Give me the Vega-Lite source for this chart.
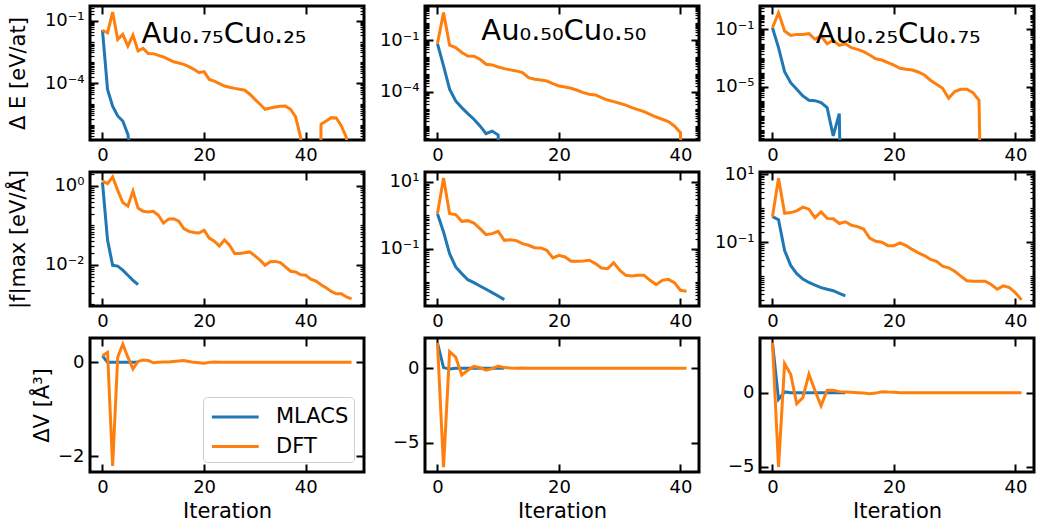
{
"$schema": "https://vega.github.io/schema/vega-lite/v6.json",
"padding": {"left": 5, "top": 3, "right": 0, "bottom": 0},
"background": "white",
"columns": 3,
"spacing": {"row": 32, "column": 61},
"bounds": "flush",
"resolve": {"scale": {"x": "independent", "y": "independent", "color": "independent"}, "legend": {"color": "independent"}, "axis": {"x": "independent", "y": "independent"}},
"datasets": {
"e1": [{"s":"MLACS","i":0,"v":0.0347},{"s":"MLACS","i":1,"v":5.13e-5},{"s":"MLACS","i":2,"v":8.13e-6},{"s":"MLACS","i":3,"v":2.75e-6},{"s":"MLACS","i":4,"v":1.58e-6},{"s":"MLACS","i":5,"v":3.6e-7},{"s":"MLACS","i":6,"v":1e-8},
{"s":"DFT","i":0,"v":0.0347},{"s":"DFT","i":1,"v":0.0263},{"s":"DFT","i":2,"v":0.257},{"s":"DFT","i":3,"v":0.0126},{"s":"DFT","i":4,"v":0.0219},{"s":"DFT","i":5,"v":0.00603},{"s":"DFT","i":6,"v":0.0204},{"s":"DFT","i":7,"v":0.00355},{"s":"DFT","i":8,"v":0.00468},{"s":"DFT","i":9,"v":0.00269},{"s":"DFT","i":10,"v":0.00263},{"s":"DFT","i":11,"v":0.00219},{"s":"DFT","i":12,"v":0.00182},{"s":"DFT","i":13,"v":0.00141},{"s":"DFT","i":14,"v":0.00107},{"s":"DFT","i":15,"v":0.000933},{"s":"DFT","i":16,"v":0.000813},{"s":"DFT","i":17,"v":0.000631},{"s":"DFT","i":18,"v":0.000468},{"s":"DFT","i":19,"v":0.000324},{"s":"DFT","i":20,"v":0.000363},{"s":"DFT","i":21,"v":0.000155},{"s":"DFT","i":22,"v":0.000129},{"s":"DFT","i":23,"v":9.77e-5},{"s":"DFT","i":24,"v":7.41e-5},{"s":"DFT","i":25,"v":6.46e-5},{"s":"DFT","i":26,"v":5.75e-5},{"s":"DFT","i":27,"v":5.25e-5},{"s":"DFT","i":28,"v":4.68e-5},{"s":"DFT","i":29,"v":3.02e-5},{"s":"DFT","i":30,"v":1.7e-5},{"s":"DFT","i":31,"v":1e-5},{"s":"DFT","i":32,"v":5.75e-6},{"s":"DFT","i":33,"v":6.61e-6},{"s":"DFT","i":34,"v":7.41e-6},{"s":"DFT","i":35,"v":7.94e-6},{"s":"DFT","i":36,"v":8.13e-6},{"s":"DFT","i":37,"v":5.75e-6},{"s":"DFT","i":38,"v":2.51e-6},{"s":"DFT","i":39,"v":2.51e-7},{"s":"DFT","i":40,"v":1e-30},{"s":"DFT","i":41,"v":1e-30},{"s":"DFT","i":42,"v":1e-30},{"s":"DFT","i":43,"v":1.1e-6},{"s":"DFT","i":44,"v":1.58e-6},{"s":"DFT","i":45,"v":2.29e-6},{"s":"DFT","i":46,"v":2.19e-6},{"s":"DFT","i":47,"v":9.12e-7},{"s":"DFT","i":48,"v":2.51e-7},{"s":"DFT","i":49,"v":1e-30}],
"e2": [{"s":"MLACS","i":0,"v":0.0631},{"s":"MLACS","i":1,"v":0.00316},{"s":"MLACS","i":2,"v":0.000138},{"s":"MLACS","i":3,"v":2.88e-5},{"s":"MLACS","i":4,"v":1.17e-5},{"s":"MLACS","i":5,"v":5.25e-6},{"s":"MLACS","i":6,"v":2.45e-6},{"s":"MLACS","i":7,"v":1e-6},{"s":"MLACS","i":8,"v":3.55e-7},{"s":"MLACS","i":9,"v":5.01e-7},{"s":"MLACS","i":10,"v":2.95e-7},{"s":"MLACS","i":11,"v":1e-30},
{"s":"DFT","i":0,"v":0.0631},{"s":"DFT","i":1,"v":4.07},{"s":"DFT","i":2,"v":0.0513},{"s":"DFT","i":3,"v":0.0372},{"s":"DFT","i":4,"v":0.0191},{"s":"DFT","i":5,"v":0.012},{"s":"DFT","i":6,"v":0.0117},{"s":"DFT","i":7,"v":0.00776},{"s":"DFT","i":8,"v":0.00398},{"s":"DFT","i":9,"v":0.00363},{"s":"DFT","i":10,"v":0.00275},{"s":"DFT","i":11,"v":0.00219},{"s":"DFT","i":12,"v":0.00186},{"s":"DFT","i":13,"v":0.00162},{"s":"DFT","i":14,"v":0.00129},{"s":"DFT","i":15,"v":0.000661},{"s":"DFT","i":16,"v":0.000525},{"s":"DFT","i":17,"v":0.000479},{"s":"DFT","i":18,"v":0.000417},{"s":"DFT","i":19,"v":0.000295},{"s":"DFT","i":20,"v":0.000214},{"s":"DFT","i":21,"v":0.000186},{"s":"DFT","i":22,"v":0.000158},{"s":"DFT","i":23,"v":0.00012},{"s":"DFT","i":24,"v":8.71e-5},{"s":"DFT","i":25,"v":7.08e-5},{"s":"DFT","i":26,"v":6.46e-5},{"s":"DFT","i":27,"v":4.47e-5},{"s":"DFT","i":28,"v":3.24e-5},{"s":"DFT","i":29,"v":2.63e-5},{"s":"DFT","i":30,"v":2.09e-5},{"s":"DFT","i":31,"v":1.62e-5},{"s":"DFT","i":32,"v":1.17e-5},{"s":"DFT","i":33,"v":8.91e-6},{"s":"DFT","i":34,"v":6.76e-6},{"s":"DFT","i":35,"v":4.79e-6},{"s":"DFT","i":36,"v":3.31e-6},{"s":"DFT","i":37,"v":2.45e-6},{"s":"DFT","i":38,"v":1.78e-6},{"s":"DFT","i":39,"v":1e-6},{"s":"DFT","i":40,"v":4.07e-7},{"s":"DFT","i":41,"v":1e-30}],
"e3": [{"s":"MLACS","i":0,"v":0.129},{"s":"MLACS","i":1,"v":0.00537},{"s":"MLACS","i":2,"v":0.000115},{"s":"MLACS","i":3,"v":2e-5},{"s":"MLACS","i":4,"v":6.92e-6},{"s":"MLACS","i":5,"v":2.4e-6},{"s":"MLACS","i":6,"v":1.2e-6},{"s":"MLACS","i":7,"v":1.12e-6},{"s":"MLACS","i":8,"v":8.13e-7},{"s":"MLACS","i":9,"v":3.72e-7},{"s":"MLACS","i":10,"v":4.07e-9},{"s":"MLACS","i":11,"v":1.41e-7},{"s":"MLACS","i":12,"v":1e-30},
{"s":"DFT","i":0,"v":0.129},{"s":"DFT","i":1,"v":1.41},{"s":"DFT","i":2,"v":0.0759},{"s":"DFT","i":3,"v":0.038},{"s":"DFT","i":4,"v":0.0447},{"s":"DFT","i":5,"v":0.0447},{"s":"DFT","i":6,"v":0.0501},{"s":"DFT","i":7,"v":0.0204},{"s":"DFT","i":8,"v":0.0347},{"s":"DFT","i":9,"v":0.01},{"s":"DFT","i":10,"v":0.0174},{"s":"DFT","i":11,"v":0.00776},{"s":"DFT","i":12,"v":0.01},{"s":"DFT","i":13,"v":0.00537},{"s":"DFT","i":14,"v":0.00407},{"s":"DFT","i":15,"v":0.00282},{"s":"DFT","i":16,"v":0.00166},{"s":"DFT","i":17,"v":0.000912},{"s":"DFT","i":18,"v":0.000741},{"s":"DFT","i":19,"v":0.00049},{"s":"DFT","i":20,"v":0.000324},{"s":"DFT","i":21,"v":0.0002},{"s":"DFT","i":22,"v":0.00017},{"s":"DFT","i":23,"v":0.000151},{"s":"DFT","i":24,"v":0.00011},{"s":"DFT","i":25,"v":6.76e-5},{"s":"DFT","i":26,"v":2.95e-5},{"s":"DFT","i":27,"v":1.55e-5},{"s":"DFT","i":28,"v":8.13e-6},{"s":"DFT","i":29,"v":1.66e-6},{"s":"DFT","i":30,"v":4.79e-6},{"s":"DFT","i":31,"v":6.92e-6},{"s":"DFT","i":32,"v":6.92e-6},{"s":"DFT","i":33,"v":4.07e-6},{"s":"DFT","i":34,"v":1.2e-6},{"s":"DFT","i":35,"v":1e-30}],
"f1": [{"s":"MLACS","i":0,"v":1.26},{"s":"MLACS","i":1,"v":0.0427},{"s":"MLACS","i":2,"v":0.00977},{"s":"MLACS","i":3,"v":0.00933},{"s":"MLACS","i":4,"v":0.00741},{"s":"MLACS","i":5,"v":0.0055},{"s":"MLACS","i":6,"v":0.00407},{"s":"MLACS","i":7,"v":0.00316},
{"s":"DFT","i":0,"v":1.32},{"s":"DFT","i":1,"v":1.15},{"s":"DFT","i":2,"v":1.7},{"s":"DFT","i":3,"v":0.776},{"s":"DFT","i":4,"v":0.38},{"s":"DFT","i":5,"v":0.309},{"s":"DFT","i":6,"v":0.741},{"s":"DFT","i":7,"v":0.275},{"s":"DFT","i":8,"v":0.229},{"s":"DFT","i":9,"v":0.219},{"s":"DFT","i":10,"v":0.229},{"s":"DFT","i":11,"v":0.182},{"s":"DFT","i":12,"v":0.115},{"s":"DFT","i":13,"v":0.145},{"s":"DFT","i":14,"v":0.148},{"s":"DFT","i":15,"v":0.129},{"s":"DFT","i":16,"v":0.0832},{"s":"DFT","i":17,"v":0.0708},{"s":"DFT","i":18,"v":0.0661},{"s":"DFT","i":19,"v":0.0646},{"s":"DFT","i":20,"v":0.0759},{"s":"DFT","i":21,"v":0.0479},{"s":"DFT","i":22,"v":0.0398},{"s":"DFT","i":23,"v":0.0302},{"s":"DFT","i":24,"v":0.0427},{"s":"DFT","i":25,"v":0.0316},{"s":"DFT","i":26,"v":0.0195},{"s":"DFT","i":27,"v":0.0195},{"s":"DFT","i":28,"v":0.0204},{"s":"DFT","i":29,"v":0.0214},{"s":"DFT","i":30,"v":0.017},{"s":"DFT","i":31,"v":0.0132},{"s":"DFT","i":32,"v":0.00977},{"s":"DFT","i":33,"v":0.012},{"s":"DFT","i":34,"v":0.0123},{"s":"DFT","i":35,"v":0.0115},{"s":"DFT","i":36,"v":0.00891},{"s":"DFT","i":37,"v":0.00692},{"s":"DFT","i":38,"v":0.00661},{"s":"DFT","i":39,"v":0.00562},{"s":"DFT","i":40,"v":0.0055},{"s":"DFT","i":41,"v":0.00437},{"s":"DFT","i":42,"v":0.00389},{"s":"DFT","i":43,"v":0.00316},{"s":"DFT","i":44,"v":0.00263},{"s":"DFT","i":45,"v":0.00214},{"s":"DFT","i":46,"v":0.00186},{"s":"DFT","i":47,"v":0.00186},{"s":"DFT","i":48,"v":0.00155},{"s":"DFT","i":49,"v":0.00138}],
"f2": [{"s":"MLACS","i":0,"v":1.12},{"s":"MLACS","i":1,"v":0.316},{"s":"MLACS","i":2,"v":0.0708},{"s":"MLACS","i":3,"v":0.0282},{"s":"MLACS","i":4,"v":0.0178},{"s":"MLACS","i":5,"v":0.0117},{"s":"MLACS","i":6,"v":0.00955},{"s":"MLACS","i":7,"v":0.00759},{"s":"MLACS","i":8,"v":0.00603},{"s":"MLACS","i":9,"v":0.00479},{"s":"MLACS","i":10,"v":0.0038},{"s":"MLACS","i":11,"v":0.00295},
{"s":"DFT","i":0,"v":1.12},{"s":"DFT","i":1,"v":13.2},{"s":"DFT","i":2,"v":1.12},{"s":"DFT","i":3,"v":1.05},{"s":"DFT","i":4,"v":0.661},{"s":"DFT","i":5,"v":0.692},{"s":"DFT","i":6,"v":0.589},{"s":"DFT","i":7,"v":0.398},{"s":"DFT","i":8,"v":0.263},{"s":"DFT","i":9,"v":0.282},{"s":"DFT","i":10,"v":0.331},{"s":"DFT","i":11,"v":0.178},{"s":"DFT","i":12,"v":0.186},{"s":"DFT","i":13,"v":0.174},{"s":"DFT","i":14,"v":0.141},{"s":"DFT","i":15,"v":0.126},{"s":"DFT","i":16,"v":0.107},{"s":"DFT","i":17,"v":0.105},{"s":"DFT","i":18,"v":0.0891},{"s":"DFT","i":19,"v":0.0525},{"s":"DFT","i":20,"v":0.0631},{"s":"DFT","i":21,"v":0.0562},{"s":"DFT","i":22,"v":0.0417},{"s":"DFT","i":23,"v":0.0417},{"s":"DFT","i":24,"v":0.0427},{"s":"DFT","i":25,"v":0.0447},{"s":"DFT","i":26,"v":0.0355},{"s":"DFT","i":27,"v":0.0263},{"s":"DFT","i":28,"v":0.0251},{"s":"DFT","i":29,"v":0.038},{"s":"DFT","i":30,"v":0.0224},{"s":"DFT","i":31,"v":0.0158},{"s":"DFT","i":32,"v":0.0151},{"s":"DFT","i":33,"v":0.0158},{"s":"DFT","i":34,"v":0.0158},{"s":"DFT","i":35,"v":0.0112},{"s":"DFT","i":36,"v":0.00832},{"s":"DFT","i":37,"v":0.0112},{"s":"DFT","i":38,"v":0.012},{"s":"DFT","i":39,"v":0.00955},{"s":"DFT","i":40,"v":0.00562},{"s":"DFT","i":41,"v":0.00525}],
"f3": [{"s":"MLACS","i":0,"v":0.562},{"s":"MLACS","i":1,"v":0.457},{"s":"MLACS","i":2,"v":0.0575},{"s":"MLACS","i":3,"v":0.0209},{"s":"MLACS","i":4,"v":0.012},{"s":"MLACS","i":5,"v":0.00832},{"s":"MLACS","i":6,"v":0.00661},{"s":"MLACS","i":7,"v":0.0055},{"s":"MLACS","i":8,"v":0.00468},{"s":"MLACS","i":9,"v":0.00417},{"s":"MLACS","i":10,"v":0.0038},{"s":"MLACS","i":11,"v":0.00316},{"s":"MLACS","i":12,"v":0.00269},
{"s":"DFT","i":0,"v":0.562},{"s":"DFT","i":1,"v":7.59},{"s":"DFT","i":2,"v":0.708},{"s":"DFT","i":3,"v":0.741},{"s":"DFT","i":4,"v":0.832},{"s":"DFT","i":5,"v":1.07},{"s":"DFT","i":6,"v":0.933},{"s":"DFT","i":7,"v":0.525},{"s":"DFT","i":8,"v":0.776},{"s":"DFT","i":9,"v":0.501},{"s":"DFT","i":10,"v":0.49},{"s":"DFT","i":11,"v":0.355},{"s":"DFT","i":12,"v":0.398},{"s":"DFT","i":13,"v":0.316},{"s":"DFT","i":14,"v":0.288},{"s":"DFT","i":15,"v":0.245},{"s":"DFT","i":16,"v":0.132},{"s":"DFT","i":17,"v":0.107},{"s":"DFT","i":18,"v":0.1},{"s":"DFT","i":19,"v":0.0794},{"s":"DFT","i":20,"v":0.0794},{"s":"DFT","i":21,"v":0.0955},{"s":"DFT","i":22,"v":0.0794},{"s":"DFT","i":23,"v":0.0617},{"s":"DFT","i":24,"v":0.049},{"s":"DFT","i":25,"v":0.0407},{"s":"DFT","i":26,"v":0.0316},{"s":"DFT","i":27,"v":0.0275},{"s":"DFT","i":28,"v":0.02},{"s":"DFT","i":29,"v":0.0178},{"s":"DFT","i":30,"v":0.0141},{"s":"DFT","i":31,"v":0.0102},{"s":"DFT","i":32,"v":0.00741},{"s":"DFT","i":33,"v":0.00724},{"s":"DFT","i":34,"v":0.00724},{"s":"DFT","i":35,"v":0.00724},{"s":"DFT","i":36,"v":0.00575},{"s":"DFT","i":37,"v":0.00417},{"s":"DFT","i":38,"v":0.00525},{"s":"DFT","i":39,"v":0.00468},{"s":"DFT","i":40,"v":0.00331},{"s":"DFT","i":41,"v":0.00204}],
"v1": [{"s":"MLACS","i":0,"v":0.14},{"s":"MLACS","i":1,"v":0},{"s":"MLACS","i":2,"v":0},{"s":"MLACS","i":3,"v":0},{"s":"MLACS","i":4,"v":0},{"s":"MLACS","i":5,"v":0},{"s":"MLACS","i":6,"v":0},{"s":"MLACS","i":7,"v":0},
{"s":"DFT","i":0,"v":0.14},{"s":"DFT","i":1,"v":0.21},{"s":"DFT","i":2,"v":-2.21},{"s":"DFT","i":3,"v":0.11},{"s":"DFT","i":4,"v":0.39},{"s":"DFT","i":5,"v":0.11},{"s":"DFT","i":6,"v":-0.14},{"s":"DFT","i":7,"v":0.02},{"s":"DFT","i":8,"v":0.05},{"s":"DFT","i":9,"v":0.04},{"s":"DFT","i":10,"v":-0.01},{"s":"DFT","i":11,"v":0},{"s":"DFT","i":12,"v":0.01},{"s":"DFT","i":13,"v":0.01},{"s":"DFT","i":14,"v":0.02},{"s":"DFT","i":15,"v":0.03},{"s":"DFT","i":16,"v":0.04},{"s":"DFT","i":17,"v":0.02},{"s":"DFT","i":18,"v":0},{"s":"DFT","i":19,"v":-0.01},{"s":"DFT","i":20,"v":-0.02},{"s":"DFT","i":21,"v":0},{"s":"DFT","i":22,"v":0.01},{"s":"DFT","i":23,"v":0},{"s":"DFT","i":24,"v":0},{"s":"DFT","i":25,"v":0},{"s":"DFT","i":26,"v":0},{"s":"DFT","i":27,"v":0},{"s":"DFT","i":28,"v":0},{"s":"DFT","i":29,"v":0},{"s":"DFT","i":30,"v":0},{"s":"DFT","i":31,"v":0},{"s":"DFT","i":32,"v":0},{"s":"DFT","i":33,"v":0},{"s":"DFT","i":34,"v":0},{"s":"DFT","i":35,"v":0},{"s":"DFT","i":36,"v":0},{"s":"DFT","i":37,"v":0},{"s":"DFT","i":38,"v":0},{"s":"DFT","i":39,"v":0},{"s":"DFT","i":40,"v":0},{"s":"DFT","i":41,"v":0},{"s":"DFT","i":42,"v":0},{"s":"DFT","i":43,"v":0},{"s":"DFT","i":44,"v":0},{"s":"DFT","i":45,"v":0},{"s":"DFT","i":46,"v":0},{"s":"DFT","i":47,"v":0},{"s":"DFT","i":48,"v":0},{"s":"DFT","i":49,"v":0}],
"v2": [{"s":"MLACS","i":0,"v":1.72},{"s":"MLACS","i":1,"v":0.05},{"s":"MLACS","i":2,"v":-0.05},{"s":"MLACS","i":3,"v":0},{"s":"MLACS","i":4,"v":0},{"s":"MLACS","i":5,"v":0},{"s":"MLACS","i":6,"v":0},{"s":"MLACS","i":7,"v":0},{"s":"MLACS","i":8,"v":0},{"s":"MLACS","i":9,"v":0},{"s":"MLACS","i":10,"v":0},{"s":"MLACS","i":11,"v":0},
{"s":"DFT","i":0,"v":1.72},{"s":"DFT","i":1,"v":-6.64},{"s":"DFT","i":2,"v":1.12},{"s":"DFT","i":3,"v":0.76},{"s":"DFT","i":4,"v":-0.45},{"s":"DFT","i":5,"v":-0.13},{"s":"DFT","i":6,"v":0.13},{"s":"DFT","i":7,"v":0.05},{"s":"DFT","i":8,"v":-0.13},{"s":"DFT","i":9,"v":-0.02},{"s":"DFT","i":10,"v":0.15},{"s":"DFT","i":11,"v":0.05},{"s":"DFT","i":12,"v":0.02},{"s":"DFT","i":13,"v":0},{"s":"DFT","i":14,"v":0.03},{"s":"DFT","i":15,"v":0},{"s":"DFT","i":16,"v":0},{"s":"DFT","i":17,"v":0},{"s":"DFT","i":18,"v":0},{"s":"DFT","i":19,"v":0},{"s":"DFT","i":20,"v":0},{"s":"DFT","i":21,"v":0},{"s":"DFT","i":22,"v":0},{"s":"DFT","i":23,"v":0},{"s":"DFT","i":24,"v":0},{"s":"DFT","i":25,"v":0},{"s":"DFT","i":26,"v":0},{"s":"DFT","i":27,"v":0},{"s":"DFT","i":28,"v":0},{"s":"DFT","i":29,"v":0},{"s":"DFT","i":30,"v":0},{"s":"DFT","i":31,"v":0},{"s":"DFT","i":32,"v":0},{"s":"DFT","i":33,"v":0},{"s":"DFT","i":34,"v":0},{"s":"DFT","i":35,"v":0},{"s":"DFT","i":36,"v":0},{"s":"DFT","i":37,"v":0},{"s":"DFT","i":38,"v":0},{"s":"DFT","i":39,"v":0},{"s":"DFT","i":40,"v":0},{"s":"DFT","i":41,"v":0}],
"v3": [{"s":"MLACS","i":0,"v":3.36},{"s":"MLACS","i":1,"v":-0.45},{"s":"MLACS","i":2,"v":0.05},{"s":"MLACS","i":3,"v":0},{"s":"MLACS","i":4,"v":0},{"s":"MLACS","i":5,"v":0},{"s":"MLACS","i":6,"v":0},{"s":"MLACS","i":7,"v":0},{"s":"MLACS","i":8,"v":0},{"s":"MLACS","i":9,"v":0},{"s":"MLACS","i":10,"v":0},{"s":"MLACS","i":11,"v":0},{"s":"MLACS","i":12,"v":0},
{"s":"DFT","i":0,"v":3.36},{"s":"DFT","i":1,"v":-5.0},{"s":"DFT","i":2,"v":1.95},{"s":"DFT","i":3,"v":1.24},{"s":"DFT","i":4,"v":-0.74},{"s":"DFT","i":5,"v":-0.34},{"s":"DFT","i":6,"v":1.24},{"s":"DFT","i":7,"v":0.14},{"s":"DFT","i":8,"v":-0.89},{"s":"DFT","i":9,"v":0.16},{"s":"DFT","i":10,"v":0.16},{"s":"DFT","i":11,"v":0.07},{"s":"DFT","i":12,"v":0.05},{"s":"DFT","i":13,"v":0.03},{"s":"DFT","i":14,"v":0},{"s":"DFT","i":15,"v":-0.03},{"s":"DFT","i":16,"v":-0.07},{"s":"DFT","i":17,"v":-0.03},{"s":"DFT","i":18,"v":0.06},{"s":"DFT","i":19,"v":0.04},{"s":"DFT","i":20,"v":0.03},{"s":"DFT","i":21,"v":0},{"s":"DFT","i":22,"v":0},{"s":"DFT","i":23,"v":0},{"s":"DFT","i":24,"v":0},{"s":"DFT","i":25,"v":0},{"s":"DFT","i":26,"v":0},{"s":"DFT","i":27,"v":0},{"s":"DFT","i":28,"v":0},{"s":"DFT","i":29,"v":0},{"s":"DFT","i":30,"v":0},{"s":"DFT","i":31,"v":0},{"s":"DFT","i":32,"v":0},{"s":"DFT","i":33,"v":0},{"s":"DFT","i":34,"v":0},{"s":"DFT","i":35,"v":0},{"s":"DFT","i":36,"v":0},{"s":"DFT","i":37,"v":0},{"s":"DFT","i":38,"v":0},{"s":"DFT","i":39,"v":0},{"s":"DFT","i":40,"v":0},{"s":"DFT","i":41,"v":0}]
},
"concat": [
{"width":274,"height":134,"data":{"name":"e1"},
 "layer":[
  {"mark":{"type":"line","clip":true},"encoding":{
   "x":{"field":"i","type":"quantitative","scale":{"domain":[-2.45,51.45],"nice":false,"zero":false},"axis":{"values":[0,20,40],"title":null}},
   "y":{"field":"v","type":"quantitative","scale":{"type":"log","domain":[1.95e-7,0.501],"nice":false},"axis":{"title":"Δ E [eV/at]","titlePadding":16,"values":[2e-7,3e-7,4e-7,5e-7,6e-7,7e-7,8e-7,9e-7,1e-6,2e-6,3e-6,4e-6,5e-6,6e-6,7e-6,8e-6,9e-6,1e-5,2e-5,3e-5,4e-5,5e-5,6e-5,7e-5,8e-5,9e-5,0.0001,0.0002,0.0003,0.0004,0.0005,0.0006,0.0007,0.0008,0.0009,0.001,0.002,0.003,0.004,0.005,0.006,0.007,0.008,0.009,0.01,0.02,0.03,0.04,0.05,0.06,0.07,0.08,0.09,0.1,0.2,0.3,0.4],"labelExpr":"datum.value == 0.1 ? '10⁻¹' : datum.value == 0.0001 ? '10⁻⁴' : ''","labelFontSize":{"condition":{"test":"datum.value == 0.1 || datum.value == 0.0001","value":18},"value":0},"tickSize":{"condition":{"test":"datum.value == 0.1 || datum.value == 0.0001","value":-8},"value":-4},"tickWidth":{"condition":{"test":"datum.value == 0.1 || datum.value == 0.0001","value":2},"value":1.2}}},
   "color":{"field":"s","type":"nominal","scale":{"domain":["MLACS","DFT"],"range":["#1f77b4","#ff7f0e"]},"legend":null}}},
  {"mark":{"type":"line","opacity":0,"clip":true},"encoding":{
   "x":{"field":"i","type":"quantitative","scale":{"domain":[-2.45,51.45],"nice":false,"zero":false},"axis":{"orient":"top","values":[0,20,40],"labels":false,"title":null}},
   "y":{"field":"v","type":"quantitative","scale":{"type":"log","domain":[1.95e-7,0.501],"nice":false},"axis":{"orient":"right","labels":false,"title":null,"values":[2e-7,3e-7,4e-7,5e-7,6e-7,7e-7,8e-7,9e-7,1e-6,2e-6,3e-6,4e-6,5e-6,6e-6,7e-6,8e-6,9e-6,1e-5,2e-5,3e-5,4e-5,5e-5,6e-5,7e-5,8e-5,9e-5,0.0001,0.0002,0.0003,0.0004,0.0005,0.0006,0.0007,0.0008,0.0009,0.001,0.002,0.003,0.004,0.005,0.006,0.007,0.008,0.009,0.01,0.02,0.03,0.04,0.05,0.06,0.07,0.08,0.09,0.1,0.2,0.3,0.4],"tickSize":{"condition":{"test":"datum.value == 0.1 || datum.value == 0.0001","value":-8},"value":-4},"tickWidth":{"condition":{"test":"datum.value == 0.1 || datum.value == 0.0001","value":2},"value":1.2}}}}},
  {"data":{"values":[{}]},"mark":{"type":"text","text":"Au₀.₇₅Cu₀.₂₅","fontSize":29,"font":"DejaVu Sans","align":"center","baseline":"alphabetic","fill":"black"},"encoding":{
   "x":{"datum":23.9,"type":"quantitative","axis":null,"scale":{"domain":[-2.45,51.45],"nice":false,"zero":false}},
   "y":{"datum":0.0085,"type":"quantitative","axis":null,"scale":{"type":"log","domain":[1.95e-7,0.501],"nice":false}}}}
 ],
 "resolve":{"axis":{"x":"independent","y":"independent"}}},
{"width":274,"height":134,"data":{"name":"e2"},
 "layer":[
  {"mark":{"type":"line","clip":true},"encoding":{
   "x":{"field":"i","type":"quantitative","scale":{"domain":[-2.05,43.05],"nice":false,"zero":false},"axis":{"values":[0,20,40],"title":null}},
   "y":{"field":"v","type":"quantitative","scale":{"type":"log","domain":[1.51e-7,9.9],"nice":false},"axis":{"title":null,"values":[2e-7,3e-7,4e-7,5e-7,6e-7,7e-7,8e-7,9e-7,1e-6,2e-6,3e-6,4e-6,5e-6,6e-6,7e-6,8e-6,9e-6,1e-5,2e-5,3e-5,4e-5,5e-5,6e-5,7e-5,8e-5,9e-5,0.0001,0.0002,0.0003,0.0004,0.0005,0.0006,0.0007,0.0008,0.0009,0.001,0.002,0.003,0.004,0.005,0.006,0.007,0.008,0.009,0.01,0.02,0.03,0.04,0.05,0.06,0.07,0.08,0.09,0.1,0.2,0.3,0.4,0.5,0.6,0.7,0.8,0.9,1,2,3,4,5,6,7,8,9],"labelExpr":"datum.value == 0.1 ? '10⁻¹' : datum.value == 0.0001 ? '10⁻⁴' : ''","labelFontSize":{"condition":{"test":"datum.value == 0.1 || datum.value == 0.0001","value":18},"value":0},"tickSize":{"condition":{"test":"datum.value == 0.1 || datum.value == 0.0001","value":-8},"value":-4},"tickWidth":{"condition":{"test":"datum.value == 0.1 || datum.value == 0.0001","value":2},"value":1.2}}},
   "color":{"field":"s","type":"nominal","scale":{"domain":["MLACS","DFT"],"range":["#1f77b4","#ff7f0e"]},"legend":null}}},
  {"mark":{"type":"line","opacity":0,"clip":true},"encoding":{
   "x":{"field":"i","type":"quantitative","scale":{"domain":[-2.05,43.05],"nice":false,"zero":false},"axis":{"orient":"top","values":[0,20,40],"labels":false,"title":null}},
   "y":{"field":"v","type":"quantitative","scale":{"type":"log","domain":[1.51e-7,9.9],"nice":false},"axis":{"orient":"right","labels":false,"title":null,"values":[2e-7,3e-7,4e-7,5e-7,6e-7,7e-7,8e-7,9e-7,1e-6,2e-6,3e-6,4e-6,5e-6,6e-6,7e-6,8e-6,9e-6,1e-5,2e-5,3e-5,4e-5,5e-5,6e-5,7e-5,8e-5,9e-5,0.0001,0.0002,0.0003,0.0004,0.0005,0.0006,0.0007,0.0008,0.0009,0.001,0.002,0.003,0.004,0.005,0.006,0.007,0.008,0.009,0.01,0.02,0.03,0.04,0.05,0.06,0.07,0.08,0.09,0.1,0.2,0.3,0.4,0.5,0.6,0.7,0.8,0.9,1,2,3,4,5,6,7,8,9],"tickSize":{"condition":{"test":"datum.value == 0.1 || datum.value == 0.0001","value":-8},"value":-4},"tickWidth":{"condition":{"test":"datum.value == 0.1 || datum.value == 0.0001","value":2},"value":1.2}}}}},
  {"data":{"values":[{}]},"mark":{"type":"text","text":"Au₀.₅₀Cu₀.₅₀","fontSize":29,"font":"DejaVu Sans","align":"center","baseline":"alphabetic","fill":"black"},"encoding":{
   "x":{"datum":20.8,"type":"quantitative","axis":null,"scale":{"domain":[-2.05,43.05],"nice":false,"zero":false}},
   "y":{"datum":0.1,"type":"quantitative","axis":null,"scale":{"type":"log","domain":[1.51e-7,9.9],"nice":false}}}}
 ],
 "resolve":{"axis":{"x":"independent","y":"independent"}}},
{"width":274,"height":134,"data":{"name":"e3"},
 "layer":[
  {"mark":{"type":"line","clip":true},"encoding":{
   "x":{"field":"i","type":"quantitative","scale":{"domain":[-2.05,43.05],"nice":false,"zero":false},"axis":{"values":[0,20,40],"title":null}},
   "y":{"field":"v","type":"quantitative","scale":{"type":"log","domain":[2.09e-9,4.17],"nice":false},"axis":{"title":null,"values":[3e-9,4e-9,5e-9,6e-9,7e-9,8e-9,9e-9,1e-8,2e-8,3e-8,4e-8,5e-8,6e-8,7e-8,8e-8,9e-8,1e-7,2e-7,3e-7,4e-7,5e-7,6e-7,7e-7,8e-7,9e-7,1e-6,2e-6,3e-6,4e-6,5e-6,6e-6,7e-6,8e-6,9e-6,1e-5,2e-5,3e-5,4e-5,5e-5,6e-5,7e-5,8e-5,9e-5,0.0001,0.0002,0.0003,0.0004,0.0005,0.0006,0.0007,0.0008,0.0009,0.001,0.002,0.003,0.004,0.005,0.006,0.007,0.008,0.009,0.01,0.02,0.03,0.04,0.05,0.06,0.07,0.08,0.09,0.1,0.2,0.3,0.4,0.5,0.6,0.7,0.8,0.9,1,2,3,4],"labelExpr":"datum.value == 0.1 ? '10⁻¹' : datum.value == 0.00001 ? '10⁻⁵' : ''","labelFontSize":{"condition":{"test":"datum.value == 0.1 || datum.value == 0.00001","value":18},"value":0},"tickSize":{"condition":{"test":"datum.value == 0.1 || datum.value == 0.00001","value":-8},"value":-4},"tickWidth":{"condition":{"test":"datum.value == 0.1 || datum.value == 0.00001","value":2},"value":1.2}}},
   "color":{"field":"s","type":"nominal","scale":{"domain":["MLACS","DFT"],"range":["#1f77b4","#ff7f0e"]},"legend":null}}},
  {"mark":{"type":"line","opacity":0,"clip":true},"encoding":{
   "x":{"field":"i","type":"quantitative","scale":{"domain":[-2.05,43.05],"nice":false,"zero":false},"axis":{"orient":"top","values":[0,20,40],"labels":false,"title":null}},
   "y":{"field":"v","type":"quantitative","scale":{"type":"log","domain":[2.09e-9,4.17],"nice":false},"axis":{"orient":"right","labels":false,"title":null,"values":[3e-9,4e-9,5e-9,6e-9,7e-9,8e-9,9e-9,1e-8,2e-8,3e-8,4e-8,5e-8,6e-8,7e-8,8e-8,9e-8,1e-7,2e-7,3e-7,4e-7,5e-7,6e-7,7e-7,8e-7,9e-7,1e-6,2e-6,3e-6,4e-6,5e-6,6e-6,7e-6,8e-6,9e-6,1e-5,2e-5,3e-5,4e-5,5e-5,6e-5,7e-5,8e-5,9e-5,0.0001,0.0002,0.0003,0.0004,0.0005,0.0006,0.0007,0.0008,0.0009,0.001,0.002,0.003,0.004,0.005,0.006,0.007,0.008,0.009,0.01,0.02,0.03,0.04,0.05,0.06,0.07,0.08,0.09,0.1,0.2,0.3,0.4,0.5,0.6,0.7,0.8,0.9,1,2,3,4],"tickSize":{"condition":{"test":"datum.value == 0.1 || datum.value == 0.00001","value":-8},"value":-4},"tickWidth":{"condition":{"test":"datum.value == 0.1 || datum.value == 0.00001","value":2},"value":1.2}}}}},
  {"data":{"values":[{}]},"mark":{"type":"text","text":"Au₀.₂₅Cu₀.₇₅","fontSize":29,"font":"DejaVu Sans","align":"center","baseline":"alphabetic","fill":"black"},"encoding":{
   "x":{"datum":20.7,"type":"quantitative","axis":null,"scale":{"domain":[-2.05,43.05],"nice":false,"zero":false}},
   "y":{"datum":0.0118,"type":"quantitative","axis":null,"scale":{"type":"log","domain":[2.09e-9,4.17],"nice":false}}}}
 ],
 "resolve":{"axis":{"x":"independent","y":"independent"}}},
{"width":274,"height":134,"data":{"name":"f1"},
 "layer":[
  {"mark":{"type":"line","clip":true},"encoding":{
   "x":{"field":"i","type":"quantitative","scale":{"domain":[-2.45,51.45],"nice":false,"zero":false},"axis":{"values":[0,20,40],"title":null}},
   "y":{"field":"v","type":"quantitative","scale":{"type":"log","domain":[9.12e-4,2.26],"nice":false},"axis":{"title":"|f|max [eV/Å]","titlePadding":16,"values":[0.001,0.002,0.003,0.004,0.005,0.006,0.007,0.008,0.009,0.01,0.02,0.03,0.04,0.05,0.06,0.07,0.08,0.09,0.1,0.2,0.3,0.4,0.5,0.6,0.7,0.8,0.9,1,2],"labelExpr":"datum.value == 1 ? '10⁰' : datum.value == 0.01 ? '10⁻²' : ''","labelFontSize":{"condition":{"test":"datum.value == 1 || datum.value == 0.01","value":18},"value":0},"tickSize":{"condition":{"test":"datum.value == 1 || datum.value == 0.01","value":-8},"value":-4},"tickWidth":{"condition":{"test":"datum.value == 1 || datum.value == 0.01","value":2},"value":1.2}}},
   "color":{"field":"s","type":"nominal","scale":{"domain":["MLACS","DFT"],"range":["#1f77b4","#ff7f0e"]},"legend":null}}},
  {"mark":{"type":"line","opacity":0,"clip":true},"encoding":{
   "x":{"field":"i","type":"quantitative","scale":{"domain":[-2.45,51.45],"nice":false,"zero":false},"axis":{"orient":"top","values":[0,20,40],"labels":false,"title":null}},
   "y":{"field":"v","type":"quantitative","scale":{"type":"log","domain":[9.12e-4,2.26],"nice":false},"axis":{"orient":"right","labels":false,"title":null,"values":[0.001,0.002,0.003,0.004,0.005,0.006,0.007,0.008,0.009,0.01,0.02,0.03,0.04,0.05,0.06,0.07,0.08,0.09,0.1,0.2,0.3,0.4,0.5,0.6,0.7,0.8,0.9,1,2],"tickSize":{"condition":{"test":"datum.value == 1 || datum.value == 0.01","value":-8},"value":-4},"tickWidth":{"condition":{"test":"datum.value == 1 || datum.value == 0.01","value":2},"value":1.2}}}}}
 ],
 "resolve":{"axis":{"x":"independent","y":"independent"}}},
{"width":274,"height":134,"data":{"name":"f2"},
 "layer":[
  {"mark":{"type":"line","clip":true},"encoding":{
   "x":{"field":"i","type":"quantitative","scale":{"domain":[-2.05,43.05],"nice":false,"zero":false},"axis":{"values":[0,20,40],"title":null}},
   "y":{"field":"v","type":"quantitative","scale":{"type":"log","domain":[0.0019,19.95],"nice":false},"axis":{"title":null,"values":[0.002,0.003,0.004,0.005,0.006,0.007,0.008,0.009,0.01,0.02,0.03,0.04,0.05,0.06,0.07,0.08,0.09,0.1,0.2,0.3,0.4,0.5,0.6,0.7,0.8,0.9,1,2,3,4,5,6,7,8,9,10],"labelExpr":"datum.value == 10 ? '10¹' : datum.value == 0.1 ? '10⁻¹' : ''","labelFontSize":{"condition":{"test":"datum.value == 10 || datum.value == 0.1","value":18},"value":0},"tickSize":{"condition":{"test":"datum.value == 10 || datum.value == 0.1","value":-8},"value":-4},"tickWidth":{"condition":{"test":"datum.value == 10 || datum.value == 0.1","value":2},"value":1.2}}},
   "color":{"field":"s","type":"nominal","scale":{"domain":["MLACS","DFT"],"range":["#1f77b4","#ff7f0e"]},"legend":null}}},
  {"mark":{"type":"line","opacity":0,"clip":true},"encoding":{
   "x":{"field":"i","type":"quantitative","scale":{"domain":[-2.05,43.05],"nice":false,"zero":false},"axis":{"orient":"top","values":[0,20,40],"labels":false,"title":null}},
   "y":{"field":"v","type":"quantitative","scale":{"type":"log","domain":[0.0019,19.95],"nice":false},"axis":{"orient":"right","labels":false,"title":null,"values":[0.002,0.003,0.004,0.005,0.006,0.007,0.008,0.009,0.01,0.02,0.03,0.04,0.05,0.06,0.07,0.08,0.09,0.1,0.2,0.3,0.4,0.5,0.6,0.7,0.8,0.9,1,2,3,4,5,6,7,8,9,10],"tickSize":{"condition":{"test":"datum.value == 10 || datum.value == 0.1","value":-8},"value":-4},"tickWidth":{"condition":{"test":"datum.value == 10 || datum.value == 0.1","value":2},"value":1.2}}}}}
 ],
 "resolve":{"axis":{"x":"independent","y":"independent"}}},
{"width":274,"height":134,"data":{"name":"f3"},
 "layer":[
  {"mark":{"type":"line","clip":true},"encoding":{
   "x":{"field":"i","type":"quantitative","scale":{"domain":[-2.05,43.05],"nice":false,"zero":false},"axis":{"values":[0,20,40],"title":null}},
   "y":{"field":"v","type":"quantitative","scale":{"type":"log","domain":[0.00135,11.5],"nice":false},"axis":{"title":null,"values":[0.002,0.003,0.004,0.005,0.006,0.007,0.008,0.009,0.01,0.02,0.03,0.04,0.05,0.06,0.07,0.08,0.09,0.1,0.2,0.3,0.4,0.5,0.6,0.7,0.8,0.9,1,2,3,4,5,6,7,8,9,10],"labelExpr":"datum.value == 10 ? '10¹' : datum.value == 0.1 ? '10⁻¹' : ''","labelFontSize":{"condition":{"test":"datum.value == 10 || datum.value == 0.1","value":18},"value":0},"tickSize":{"condition":{"test":"datum.value == 10 || datum.value == 0.1","value":-8},"value":-4},"tickWidth":{"condition":{"test":"datum.value == 10 || datum.value == 0.1","value":2},"value":1.2}}},
   "color":{"field":"s","type":"nominal","scale":{"domain":["MLACS","DFT"],"range":["#1f77b4","#ff7f0e"]},"legend":null}}},
  {"mark":{"type":"line","opacity":0,"clip":true},"encoding":{
   "x":{"field":"i","type":"quantitative","scale":{"domain":[-2.05,43.05],"nice":false,"zero":false},"axis":{"orient":"top","values":[0,20,40],"labels":false,"title":null}},
   "y":{"field":"v","type":"quantitative","scale":{"type":"log","domain":[0.00135,11.5],"nice":false},"axis":{"orient":"right","labels":false,"title":null,"values":[0.002,0.003,0.004,0.005,0.006,0.007,0.008,0.009,0.01,0.02,0.03,0.04,0.05,0.06,0.07,0.08,0.09,0.1,0.2,0.3,0.4,0.5,0.6,0.7,0.8,0.9,1,2,3,4,5,6,7,8,9,10],"tickSize":{"condition":{"test":"datum.value == 10 || datum.value == 0.1","value":-8},"value":-4},"tickWidth":{"condition":{"test":"datum.value == 10 || datum.value == 0.1","value":2},"value":1.2}}}}}
 ],
 "resolve":{"axis":{"x":"independent","y":"independent"}}},
{"width":274,"height":134,"data":{"name":"v1"},
 "layer":[
  {"mark":{"type":"line","clip":true},"encoding":{
   "x":{"field":"i","type":"quantitative","scale":{"domain":[-2.45,51.45],"nice":false,"zero":false},"axis":{"values":[0,20,40],"title":"Iteration","titlePadding":4}},
   "y":{"field":"v","type":"quantitative","scale":{"domain":[-2.34,0.52],"nice":false,"zero":false},"axis":{"title":"ΔV [Å³]","titlePadding":5,"values":[-2,0]}},
   "color":{"field":"s","type":"nominal","scale":{"domain":["MLACS","DFT"],"range":["#1f77b4","#ff7f0e"]},"legend":{}}}},
  {"mark":{"type":"line","opacity":0,"clip":true},"encoding":{
   "x":{"field":"i","type":"quantitative","scale":{"domain":[-2.45,51.45],"nice":false,"zero":false},"axis":{"orient":"top","values":[0,20,40],"labels":false,"title":null}},
   "y":{"field":"v","type":"quantitative","scale":{"domain":[-2.34,0.52],"nice":false,"zero":false},"axis":{"orient":"right","labels":false,"title":null,"values":[-2,0]}}}}
 ],
 "resolve":{"axis":{"x":"independent","y":"independent"}}},
{"width":274,"height":134,"data":{"name":"v2"},
 "layer":[
  {"mark":{"type":"line","clip":true},"encoding":{
   "x":{"field":"i","type":"quantitative","scale":{"domain":[-2.05,43.05],"nice":false,"zero":false},"axis":{"values":[0,20,40],"title":"Iteration","titlePadding":4}},
   "y":{"field":"v","type":"quantitative","scale":{"domain":[-6.97,2.04],"nice":false,"zero":false},"axis":{"title":null,"values":[-5,0]}},
   "color":{"field":"s","type":"nominal","scale":{"domain":["MLACS","DFT"],"range":["#1f77b4","#ff7f0e"]},"legend":null}}},
  {"mark":{"type":"line","opacity":0,"clip":true},"encoding":{
   "x":{"field":"i","type":"quantitative","scale":{"domain":[-2.05,43.05],"nice":false,"zero":false},"axis":{"orient":"top","values":[0,20,40],"labels":false,"title":null}},
   "y":{"field":"v","type":"quantitative","scale":{"domain":[-6.97,2.04],"nice":false,"zero":false},"axis":{"orient":"right","labels":false,"title":null,"values":[-5,0]}}}}
 ],
 "resolve":{"axis":{"x":"independent","y":"independent"}}},
{"width":274,"height":134,"data":{"name":"v3"},
 "layer":[
  {"mark":{"type":"line","clip":true},"encoding":{
   "x":{"field":"i","type":"quantitative","scale":{"domain":[-2.05,43.05],"nice":false,"zero":false},"axis":{"values":[0,20,40],"title":"Iteration","titlePadding":4}},
   "y":{"field":"v","type":"quantitative","scale":{"domain":[-5.34,3.68],"nice":false,"zero":false},"axis":{"title":null,"values":[-5,0]}},
   "color":{"field":"s","type":"nominal","scale":{"domain":["MLACS","DFT"],"range":["#1f77b4","#ff7f0e"]},"legend":null}}},
  {"mark":{"type":"line","opacity":0,"clip":true},"encoding":{
   "x":{"field":"i","type":"quantitative","scale":{"domain":[-2.05,43.05],"nice":false,"zero":false},"axis":{"orient":"top","values":[0,20,40],"labels":false,"title":null}},
   "y":{"field":"v","type":"quantitative","scale":{"domain":[-5.34,3.68],"nice":false,"zero":false},"axis":{"orient":"right","labels":false,"title":null,"values":[-5,0]}}}}
 ],
 "resolve":{"axis":{"x":"independent","y":"independent"}}}
],
"config": {
 "font": "DejaVu Sans",
 "view": {"stroke": "black", "strokeWidth": 3},
 "line": {"strokeWidth": 3},
 "axis": {"domain": false, "grid": false, "tickColor": "black", "tickWidth": 2, "tickSize": -8, "labelPadding": 14, "labelFontSize": 18, "labelColor": "black", "labelFont": "DejaVu Sans", "labelOverlap": false, "labelFlush": false, "labelBound": false, "titleFontSize": 21, "titleFontWeight": "normal", "titleColor": "black", "titleFont": "DejaVu Sans", "titlePadding": 8},
 "legend": {"orient": "bottom-right", "offset": 10, "fillColor": "white", "strokeColor": "#d0d0d0", "cornerRadius": 4, "padding": 5, "labelFontSize": 21, "labelFont": "DejaVu Sans", "labelColor": "black", "symbolType": "M-0.84,0H2.7", "symbolStrokeWidth": 3, "symbolSize": 700, "labelOffset": 38, "rowPadding": 4.5, "title": null}
}
}
